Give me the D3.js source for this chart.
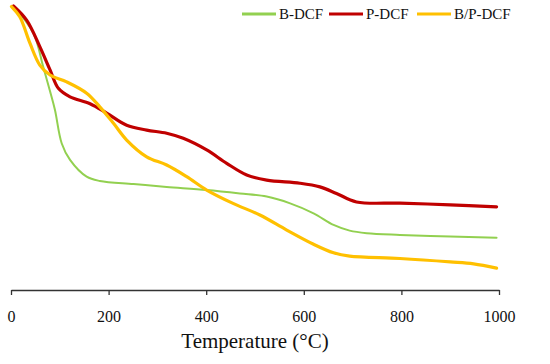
<!DOCTYPE html>
<html>
<head>
<meta charset="utf-8">
<script src="https://cdn.jsdelivr.net/npm/d3@7"></script>
<style>
  body { margin: 0; background: #fff; }
  text { font-family: "Liberation Serif", "DejaVu Serif", serif; fill: #111; }
</style>
</head>
<body>
<div id="chart"></div>
<script>
// TGA curves: weight (%) vs temperature (°C)
var seriesNames = ["B-DCF", "P-DCF", "B/P-DCF"];
var seriesColors = ["#92d050", "#c00000", "#ffc000"];
var seriesWidths = [2, 3.2, 3.2];

var bdcfTemp = [5, 46, 66, 80, 90, 104, 121, 155, 182, 251, 319, 401, 469, 524, 572, 620, 661, 694, 729, 797, 900, 995];
var bdcfWeight = [100, 90.4, 78.6, 70, 63.5, 51.6, 45.8, 39.9, 38.4, 37.3, 36.3, 35.2, 34, 32.9, 30.5, 27, 22.9, 20.9, 20, 19.4, 18.8, 18.4];

var pdcfTemp = [5, 32, 59, 80, 97, 121, 162, 196, 237, 278, 319, 353, 401, 442, 483, 524, 592, 633, 667, 708, 797, 900, 995];
var pdcfWeight = [100, 95, 85.7, 77.5, 71, 68, 65.6, 62.3, 58, 56.3, 55.2, 53.4, 49.3, 44.6, 40.5, 38.7, 37.6, 36.3, 34, 31, 30.6, 30, 29.3];

var bpdcfTemp = [1, 18, 39, 59, 80, 114, 155, 182, 210, 237, 278, 319, 360, 401, 455, 510, 565, 620, 661, 694, 797, 900, 948, 995];
var bpdcfWeight = [99.8, 96.2, 86.8, 79.2, 75.7, 73.3, 69.3, 64.5, 58.7, 52.8, 46.9, 44, 39.9, 35.2, 30.5, 26.4, 21.1, 16.1, 13.1, 11.9, 11.1, 9.9, 9.2, 7.7];

var xTicks = [0, 200, 400, 600, 800, 1000];

var width = 550, height = 364;
var svg = d3.select("#chart").append("svg")
    .attr("width", width)
    .attr("height", height);

var x = d3.scaleLinear().domain([0, 1000]).range([11, 499]);
var y = d3.scaleLinear().domain([0, 100]).range([290, 6]);

var series = [
  d3.zip(bdcfTemp, bdcfWeight),
  d3.zip(pdcfTemp, pdcfWeight),
  d3.zip(bpdcfTemp, bpdcfWeight)
];

var line = d3.line()
    .x(function(d) { return x(d[0]); })
    .y(function(d) { return y(d[1]); })
    .curve(d3.curveCatmullRom.alpha(0.5));

// x axis
var xAxis = svg.append("g")
    .attr("transform", "translate(0," + y(0) + ")")
    .call(d3.axisBottom(x).tickValues(xTicks).tickFormat(d3.format("d"))
      .tickSize(5).tickPadding(16).tickSizeOuter(0));
xAxis.select(".domain").attr("stroke", "#333").attr("stroke-width", 1.3);
xAxis.selectAll(".tick line").attr("stroke", "#333").attr("stroke-width", 1.3);
xAxis.selectAll(".tick text")
    .style("font-size", "16px")
    .style("font-family", "'Liberation Serif', serif")
    .attr("fill", "#111");

svg.append("text")
    .attr("x", x(500))
    .attr("y", 348)
    .attr("text-anchor", "middle")
    .attr("font-size", 21)
    .text("Temperature (\u00B0C)");

// curves (yellow drawn last, like the original)
series.forEach(function(s, i) {
  svg.append("path")
      .datum(s)
      .attr("fill", "none")
      .attr("stroke", seriesColors[i])
      .attr("stroke-width", seriesWidths[i])
      .attr("stroke-linejoin", "round")
      .attr("stroke-linecap", "round")
      .attr("d", line);
});

// legend
var legendX = [242, 329, 417];
var legend = svg.append("g");
seriesNames.forEach(function(name, i) {
  legend.append("line")
      .attr("x1", legendX[i]).attr("x2", legendX[i] + 34)
      .attr("y1", 14).attr("y2", 14)
      .attr("stroke", seriesColors[i])
      .attr("stroke-width", 3);
  legend.append("text")
      .attr("x", legendX[i] + 37)
      .attr("y", 19)
      .attr("font-size", 15)
      .text(name);
});
</script>
</body>
</html>
